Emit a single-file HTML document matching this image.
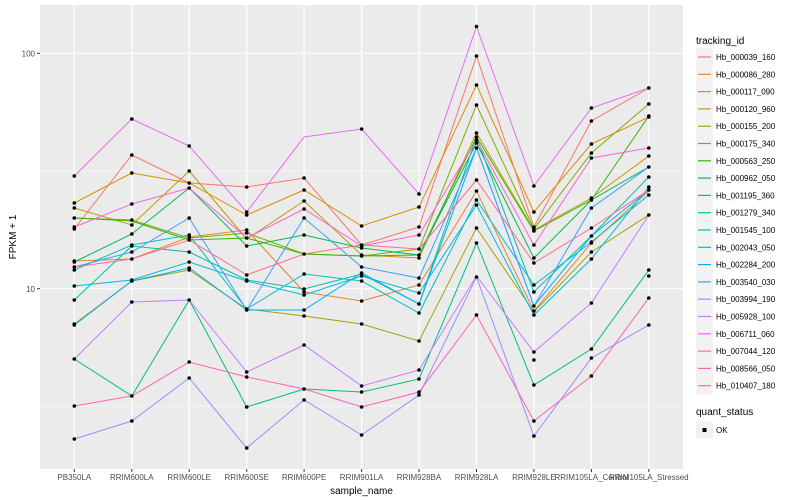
<!DOCTYPE html>
<html><head><meta charset="utf-8"><style>
html,body{margin:0;padding:0;background:#fff;}
svg{display:block;font-family:"Liberation Sans",sans-serif;}
</style></head><body>
<svg width="800" height="500" viewBox="0 0 800 500" xmlns="http://www.w3.org/2000/svg">
<rect x="0" y="0" width="800" height="500" fill="#fff"/>
<rect x="40" y="5" width="643" height="464" fill="#EBEBEB"/>
<g stroke="#fff" stroke-width="0.6">
<line x1="40" y1="171" x2="683" y2="171"/><line x1="40" y1="406" x2="683" y2="406"/>
</g>
<g stroke="#fff" stroke-width="1.2">
<line x1="40" y1="53.3" x2="683" y2="53.3"/><line x1="40" y1="288.7" x2="683" y2="288.7"/>
<line x1="74.3" y1="5" x2="74.3" y2="469"/><line x1="131.8" y1="5" x2="131.8" y2="469"/>
<line x1="189.2" y1="5" x2="189.2" y2="469"/><line x1="246.7" y1="5" x2="246.7" y2="469"/>
<line x1="304.1" y1="5" x2="304.1" y2="469"/><line x1="361.6" y1="5" x2="361.6" y2="469"/>
<line x1="419" y1="5" x2="419" y2="469"/><line x1="476.5" y1="5" x2="476.5" y2="469"/>
<line x1="533.9" y1="5" x2="533.9" y2="469"/><line x1="591.4" y1="5" x2="591.4" y2="469"/>
<line x1="648.8" y1="5" x2="648.8" y2="469"/>
</g>
<g fill="none" stroke-width="1">
<polyline stroke="#F8766D" points="74.3,229 131.8,155 189.2,183 246.7,187 304.1,178 361.6,245 419,227 476.5,56 533.9,227 591.4,121 648.8,88"/>
<polyline stroke="#EA8331" points="74.3,261 131.8,259 189.2,237 246.7,230 304.1,292 361.6,301 419,285 476.5,191 533.9,311 591.4,243 648.8,191"/>
<polyline stroke="#D89000" points="74.3,203 131.8,173 189.2,183 246.7,215 304.1,190 361.6,226 419,207 476.5,85 533.9,212 591.4,144 648.8,117"/>
<polyline stroke="#C09B00" points="74.3,208 131.8,225 189.2,171 246.7,239 304.1,201 361.6,255 419,258 476.5,133 533.9,230 591.4,198 648.8,156"/>
<polyline stroke="#A3A500" points="74.3,324 131.8,281 189.2,270 246.7,309 304.1,316 361.6,324 419,341 476.5,228 533.9,312 591.4,252 648.8,215"/>
<polyline stroke="#7CAE00" points="74.3,218 131.8,220 189.2,238 246.7,233 304.1,254 361.6,256 419,249 476.5,105 533.9,229 591.4,153 648.8,104"/>
<polyline stroke="#39B600" points="74.3,218 131.8,221 189.2,240 246.7,238 304.1,254 361.6,256 419,255 476.5,137 533.9,231 591.4,200 648.8,116"/>
<polyline stroke="#00BB4E" points="74.3,262 131.8,234 189.2,188 246.7,246 304.1,235 361.6,248 419,255 476.5,143 533.9,258 591.4,200 648.8,167"/>
<polyline stroke="#00BF7D" points="74.3,359 131.8,396 189.2,300 246.7,407 304.1,389 361.6,392 419,379 476.5,243 533.9,385 591.4,349 648.8,270"/>
<polyline stroke="#00C1A3" points="74.3,300 131.8,246 189.2,252 246.7,280 304.1,289 361.6,274 419,304 476.5,137 533.9,292 591.4,236 648.8,177"/>
<polyline stroke="#00BFC4" points="74.3,270 131.8,245 189.2,235 246.7,309 304.1,274 361.6,281 419,313 476.5,200 533.9,285 591.4,242 648.8,195"/>
<polyline stroke="#00BAE0" points="74.3,286 131.8,280 189.2,262 246.7,281 304.1,295 361.6,276 419,293 476.5,205 533.9,315 591.4,259 648.8,187"/>
<polyline stroke="#00B0F6" points="74.3,325 131.8,281 189.2,268 246.7,310 304.1,310 361.6,273 419,304 476.5,148 533.9,306 591.4,236 648.8,190"/>
<polyline stroke="#35A2FF" points="74.3,267 131.8,252 189.2,218 246.7,310 304.1,218 361.6,267 419,278 476.5,148 533.9,306 591.4,208 648.8,167"/>
<polyline stroke="#9590FF" points="74.3,439 131.8,421 189.2,378 246.7,448 304.1,400 361.6,435 419,395 476.5,277 533.9,436 591.4,358 648.8,325"/>
<polyline stroke="#C77CFF" points="74.3,359 131.8,302 189.2,300 246.7,372 304.1,345 361.6,386 419,370 476.5,276 533.9,352 591.4,303 648.8,215"/>
<polyline stroke="#E76BF3" points="74.3,176 131.8,119 189.2,146 246.7,212 304.1,137 361.6,129 419,194 476.5,26.5 533.9,186 591.4,108 648.8,88"/>
<polyline stroke="#FA62DB" points="74.3,227 131.8,204 189.2,188 246.7,238 304.1,209 361.6,246 419,235 476.5,140 533.9,245 591.4,158 648.8,148"/>
<polyline stroke="#FF62BC" points="74.3,406 131.8,396 189.2,362 246.7,377 304.1,389 361.6,407 419,392 476.5,315 533.9,421 591.4,376 648.8,298"/>
<polyline stroke="#FF6C91" points="74.3,267 131.8,259 189.2,240 246.7,275 304.1,254 361.6,245 419,249 476.5,180 533.9,263 591.4,228 648.8,190"/>
</g>
<g fill="#000">
<circle cx="74.3" cy="176" r="1.8"/><circle cx="74.3" cy="203" r="1.8"/><circle cx="74.3" cy="208" r="1.8"/><circle cx="74.3" cy="218" r="1.8"/><circle cx="74.3" cy="227" r="1.8"/><circle cx="74.3" cy="229" r="1.8"/><circle cx="74.3" cy="261" r="1.8"/><circle cx="74.3" cy="267" r="1.8"/><circle cx="74.3" cy="270" r="1.8"/><circle cx="74.3" cy="286" r="1.8"/><circle cx="74.3" cy="300" r="1.8"/><circle cx="74.3" cy="324" r="1.8"/><circle cx="74.3" cy="359" r="1.8"/><circle cx="74.3" cy="406" r="1.8"/><circle cx="74.3" cy="439" r="1.8"/><circle cx="74.3" cy="262" r="1.8"/><circle cx="74.3" cy="325" r="1.8"/>
<circle cx="131.8" cy="119" r="1.8"/><circle cx="131.8" cy="155" r="1.8"/><circle cx="131.8" cy="173" r="1.8"/><circle cx="131.8" cy="204" r="1.8"/><circle cx="131.8" cy="220" r="1.8"/><circle cx="131.8" cy="225" r="1.8"/><circle cx="131.8" cy="234" r="1.8"/><circle cx="131.8" cy="246" r="1.8"/><circle cx="131.8" cy="252" r="1.8"/><circle cx="131.8" cy="259" r="1.8"/><circle cx="131.8" cy="245" r="1.8"/><circle cx="131.8" cy="280" r="1.8"/><circle cx="131.8" cy="281" r="1.8"/><circle cx="131.8" cy="302" r="1.8"/><circle cx="131.8" cy="396" r="1.8"/><circle cx="131.8" cy="421" r="1.8"/>
<circle cx="189.2" cy="146" r="1.8"/><circle cx="189.2" cy="171" r="1.8"/><circle cx="189.2" cy="183" r="1.8"/><circle cx="189.2" cy="188" r="1.8"/><circle cx="189.2" cy="218" r="1.8"/><circle cx="189.2" cy="235" r="1.8"/><circle cx="189.2" cy="237" r="1.8"/><circle cx="189.2" cy="240" r="1.8"/><circle cx="189.2" cy="252" r="1.8"/><circle cx="189.2" cy="262" r="1.8"/><circle cx="189.2" cy="268" r="1.8"/><circle cx="189.2" cy="270" r="1.8"/><circle cx="189.2" cy="300" r="1.8"/><circle cx="189.2" cy="362" r="1.8"/><circle cx="189.2" cy="378" r="1.8"/>
<circle cx="246.7" cy="187" r="1.8"/><circle cx="246.7" cy="212" r="1.8"/><circle cx="246.7" cy="215" r="1.8"/><circle cx="246.7" cy="230" r="1.8"/><circle cx="246.7" cy="233" r="1.8"/><circle cx="246.7" cy="238" r="1.8"/><circle cx="246.7" cy="246" r="1.8"/><circle cx="246.7" cy="275" r="1.8"/><circle cx="246.7" cy="280" r="1.8"/><circle cx="246.7" cy="281" r="1.8"/><circle cx="246.7" cy="309" r="1.8"/><circle cx="246.7" cy="310" r="1.8"/><circle cx="246.7" cy="372" r="1.8"/><circle cx="246.7" cy="377" r="1.8"/><circle cx="246.7" cy="407" r="1.8"/><circle cx="246.7" cy="448" r="1.8"/>
<circle cx="304.1" cy="178" r="1.8"/><circle cx="304.1" cy="190" r="1.8"/><circle cx="304.1" cy="201" r="1.8"/><circle cx="304.1" cy="209" r="1.8"/><circle cx="304.1" cy="218" r="1.8"/><circle cx="304.1" cy="235" r="1.8"/><circle cx="304.1" cy="254" r="1.8"/><circle cx="304.1" cy="274" r="1.8"/><circle cx="304.1" cy="289" r="1.8"/><circle cx="304.1" cy="292" r="1.8"/><circle cx="304.1" cy="295" r="1.8"/><circle cx="304.1" cy="310" r="1.8"/><circle cx="304.1" cy="316" r="1.8"/><circle cx="304.1" cy="345" r="1.8"/><circle cx="304.1" cy="389" r="1.8"/><circle cx="304.1" cy="400" r="1.8"/>
<circle cx="361.6" cy="129" r="1.8"/><circle cx="361.6" cy="226" r="1.8"/><circle cx="361.6" cy="245" r="1.8"/><circle cx="361.6" cy="246" r="1.8"/><circle cx="361.6" cy="248" r="1.8"/><circle cx="361.6" cy="256" r="1.8"/><circle cx="361.6" cy="255" r="1.8"/><circle cx="361.6" cy="267" r="1.8"/><circle cx="361.6" cy="273" r="1.8"/><circle cx="361.6" cy="276" r="1.8"/><circle cx="361.6" cy="281" r="1.8"/><circle cx="361.6" cy="301" r="1.8"/><circle cx="361.6" cy="324" r="1.8"/><circle cx="361.6" cy="386" r="1.8"/><circle cx="361.6" cy="392" r="1.8"/><circle cx="361.6" cy="407" r="1.8"/><circle cx="361.6" cy="435" r="1.8"/>
<circle cx="419" cy="194" r="1.8"/><circle cx="419" cy="207" r="1.8"/><circle cx="419" cy="227" r="1.8"/><circle cx="419" cy="235" r="1.8"/><circle cx="419" cy="249" r="1.8"/><circle cx="419" cy="255" r="1.8"/><circle cx="419" cy="258" r="1.8"/><circle cx="419" cy="278" r="1.8"/><circle cx="419" cy="285" r="1.8"/><circle cx="419" cy="293" r="1.8"/><circle cx="419" cy="304" r="1.8"/><circle cx="419" cy="313" r="1.8"/><circle cx="419" cy="341" r="1.8"/><circle cx="419" cy="370" r="1.8"/><circle cx="419" cy="379" r="1.8"/><circle cx="419" cy="392" r="1.8"/><circle cx="419" cy="395" r="1.8"/>
<circle cx="476.5" cy="26.5" r="1.8"/><circle cx="476.5" cy="56" r="1.8"/><circle cx="476.5" cy="85" r="1.8"/><circle cx="476.5" cy="105" r="1.8"/><circle cx="476.5" cy="133" r="1.8"/><circle cx="476.5" cy="137" r="1.8"/><circle cx="476.5" cy="140" r="1.8"/><circle cx="476.5" cy="143" r="1.8"/><circle cx="476.5" cy="148" r="1.8"/><circle cx="476.5" cy="180" r="1.8"/><circle cx="476.5" cy="191" r="1.8"/><circle cx="476.5" cy="200" r="1.8"/><circle cx="476.5" cy="205" r="1.8"/><circle cx="476.5" cy="228" r="1.8"/><circle cx="476.5" cy="243" r="1.8"/><circle cx="476.5" cy="277" r="1.8"/><circle cx="476.5" cy="315" r="1.8"/>
<circle cx="533.9" cy="186" r="1.8"/><circle cx="533.9" cy="212" r="1.8"/><circle cx="533.9" cy="227" r="1.8"/><circle cx="533.9" cy="229" r="1.8"/><circle cx="533.9" cy="231" r="1.8"/><circle cx="533.9" cy="245" r="1.8"/><circle cx="533.9" cy="258" r="1.8"/><circle cx="533.9" cy="263" r="1.8"/><circle cx="533.9" cy="285" r="1.8"/><circle cx="533.9" cy="292" r="1.8"/><circle cx="533.9" cy="306" r="1.8"/><circle cx="533.9" cy="311" r="1.8"/><circle cx="533.9" cy="315" r="1.8"/><circle cx="533.9" cy="352" r="1.8"/><circle cx="533.9" cy="360" r="1.8"/><circle cx="533.9" cy="385" r="1.8"/><circle cx="533.9" cy="421" r="1.8"/><circle cx="533.9" cy="436" r="1.8"/>
<circle cx="591.4" cy="108" r="1.8"/><circle cx="591.4" cy="121" r="1.8"/><circle cx="591.4" cy="144" r="1.8"/><circle cx="591.4" cy="153" r="1.8"/><circle cx="591.4" cy="158" r="1.8"/><circle cx="591.4" cy="198" r="1.8"/><circle cx="591.4" cy="200" r="1.8"/><circle cx="591.4" cy="208" r="1.8"/><circle cx="591.4" cy="228" r="1.8"/><circle cx="591.4" cy="236" r="1.8"/><circle cx="591.4" cy="242" r="1.8"/><circle cx="591.4" cy="243" r="1.8"/><circle cx="591.4" cy="252" r="1.8"/><circle cx="591.4" cy="259" r="1.8"/><circle cx="591.4" cy="303" r="1.8"/><circle cx="591.4" cy="349" r="1.8"/><circle cx="591.4" cy="358" r="1.8"/><circle cx="591.4" cy="376" r="1.8"/>
<circle cx="648.8" cy="88" r="1.8"/><circle cx="648.8" cy="104" r="1.8"/><circle cx="648.8" cy="116" r="1.8"/><circle cx="648.8" cy="117" r="1.8"/><circle cx="648.8" cy="148" r="1.8"/><circle cx="648.8" cy="156" r="1.8"/><circle cx="648.8" cy="167" r="1.8"/><circle cx="648.8" cy="177" r="1.8"/><circle cx="648.8" cy="187" r="1.8"/><circle cx="648.8" cy="190" r="1.8"/><circle cx="648.8" cy="195" r="1.8"/><circle cx="648.8" cy="215" r="1.8"/><circle cx="648.8" cy="270" r="1.8"/><circle cx="648.8" cy="276" r="1.8"/><circle cx="648.8" cy="298" r="1.8"/><circle cx="648.8" cy="325" r="1.8"/>
</g>
<g stroke="#333" stroke-width="1">
<line x1="37" y1="53.3" x2="40" y2="53.3"/><line x1="37" y1="288.7" x2="40" y2="288.7"/>
<line x1="74.3" y1="469" x2="74.3" y2="472"/><line x1="131.8" y1="469" x2="131.8" y2="472"/><line x1="189.2" y1="469" x2="189.2" y2="472"/><line x1="246.7" y1="469" x2="246.7" y2="472"/><line x1="304.1" y1="469" x2="304.1" y2="472"/><line x1="361.6" y1="469" x2="361.6" y2="472"/><line x1="419" y1="469" x2="419" y2="472"/><line x1="476.5" y1="469" x2="476.5" y2="472"/><line x1="533.9" y1="469" x2="533.9" y2="472"/><line x1="591.4" y1="469" x2="591.4" y2="472"/><line x1="648.8" y1="469" x2="648.8" y2="472"/>
</g>
<g font-size="8" fill="#4D4D4D">
<text x="35" y="56.5" text-anchor="end">100</text>
<text x="35" y="292" text-anchor="end">10</text>
<g text-anchor="middle">
<text x="74.3" y="480">PB350LA</text><text x="131.8" y="480">RRIM600LA</text><text x="189.2" y="480">RRIM600LE</text><text x="246.7" y="480">RRIM600SE</text><text x="304.1" y="480">RRIM600PE</text><text x="361.6" y="480">RRIM901LA</text><text x="419" y="480">RRIM928BA</text><text x="476.5" y="480">RRIM928LA</text><text x="533.9" y="480">RRIM928LE</text><text x="591.4" y="480">RRIM105LA_Control</text><text x="648.8" y="480">RRIM105LA_Stressed</text>
</g></g>
<text x="361.5" y="494" font-size="10" text-anchor="middle" fill="#000">sample_name</text>
<text transform="translate(16,237) rotate(-90)" font-size="10" text-anchor="middle" fill="#000">FPKM + 1</text>
<text x="696" y="44" font-size="10" fill="#000">tracking_id</text>
<g font-size="8" fill="#000">
<rect x="696" y="48.5" width="17" height="346" fill="#F2F2F2"/>
<g stroke-width="1.2">
<line x1="698" y1="57" x2="711" y2="57" stroke="#F8766D"/><line x1="698" y1="74.3" x2="711" y2="74.3" stroke="#EA8331"/><line x1="698" y1="91.6" x2="711" y2="91.6" stroke="#D89000"/><line x1="698" y1="108.9" x2="711" y2="108.9" stroke="#C09B00"/><line x1="698" y1="126.2" x2="711" y2="126.2" stroke="#A3A500"/><line x1="698" y1="143.5" x2="711" y2="143.5" stroke="#7CAE00"/><line x1="698" y1="160.8" x2="711" y2="160.8" stroke="#39B600"/><line x1="698" y1="178.1" x2="711" y2="178.1" stroke="#00BB4E"/><line x1="698" y1="195.4" x2="711" y2="195.4" stroke="#00BF7D"/><line x1="698" y1="212.7" x2="711" y2="212.7" stroke="#00C1A3"/><line x1="698" y1="230" x2="711" y2="230" stroke="#00BFC4"/><line x1="698" y1="247.3" x2="711" y2="247.3" stroke="#00BAE0"/><line x1="698" y1="264.6" x2="711" y2="264.6" stroke="#00B0F6"/><line x1="698" y1="281.9" x2="711" y2="281.9" stroke="#35A2FF"/><line x1="698" y1="299.2" x2="711" y2="299.2" stroke="#9590FF"/><line x1="698" y1="316.5" x2="711" y2="316.5" stroke="#C77CFF"/><line x1="698" y1="333.8" x2="711" y2="333.8" stroke="#E76BF3"/><line x1="698" y1="351.1" x2="711" y2="351.1" stroke="#FA62DB"/><line x1="698" y1="368.4" x2="711" y2="368.4" stroke="#FF62BC"/><line x1="698" y1="385.7" x2="711" y2="385.7" stroke="#FF6C91"/>
</g>
<text x="716" y="60">Hb_000039_160</text><text x="716" y="77.3">Hb_000086_280</text><text x="716" y="94.6">Hb_000117_090</text><text x="716" y="111.9">Hb_000120_960</text><text x="716" y="129.2">Hb_000155_200</text><text x="716" y="146.5">Hb_000175_340</text><text x="716" y="163.8">Hb_000563_250</text><text x="716" y="181.1">Hb_000962_050</text><text x="716" y="198.4">Hb_001195_360</text><text x="716" y="215.7">Hb_001279_340</text><text x="716" y="233">Hb_001545_100</text><text x="716" y="250.3">Hb_002043_050</text><text x="716" y="267.6">Hb_002284_200</text><text x="716" y="284.9">Hb_003540_030</text><text x="716" y="302.2">Hb_003994_190</text><text x="716" y="319.5">Hb_005928_100</text><text x="716" y="336.8">Hb_006711_060</text><text x="716" y="354.1">Hb_007044_120</text><text x="716" y="371.4">Hb_008566_050</text><text x="716" y="388.7">Hb_010407_180</text>
</g>
<text x="696" y="415" font-size="10" fill="#000">quant_status</text>
<rect x="696" y="421.5" width="17" height="17" fill="#F2F2F2"/>
<rect x="702.5" y="428" width="4" height="4" fill="#000"/>
<text x="716" y="433" font-size="8" fill="#000">OK</text>
</svg>
</body></html>
